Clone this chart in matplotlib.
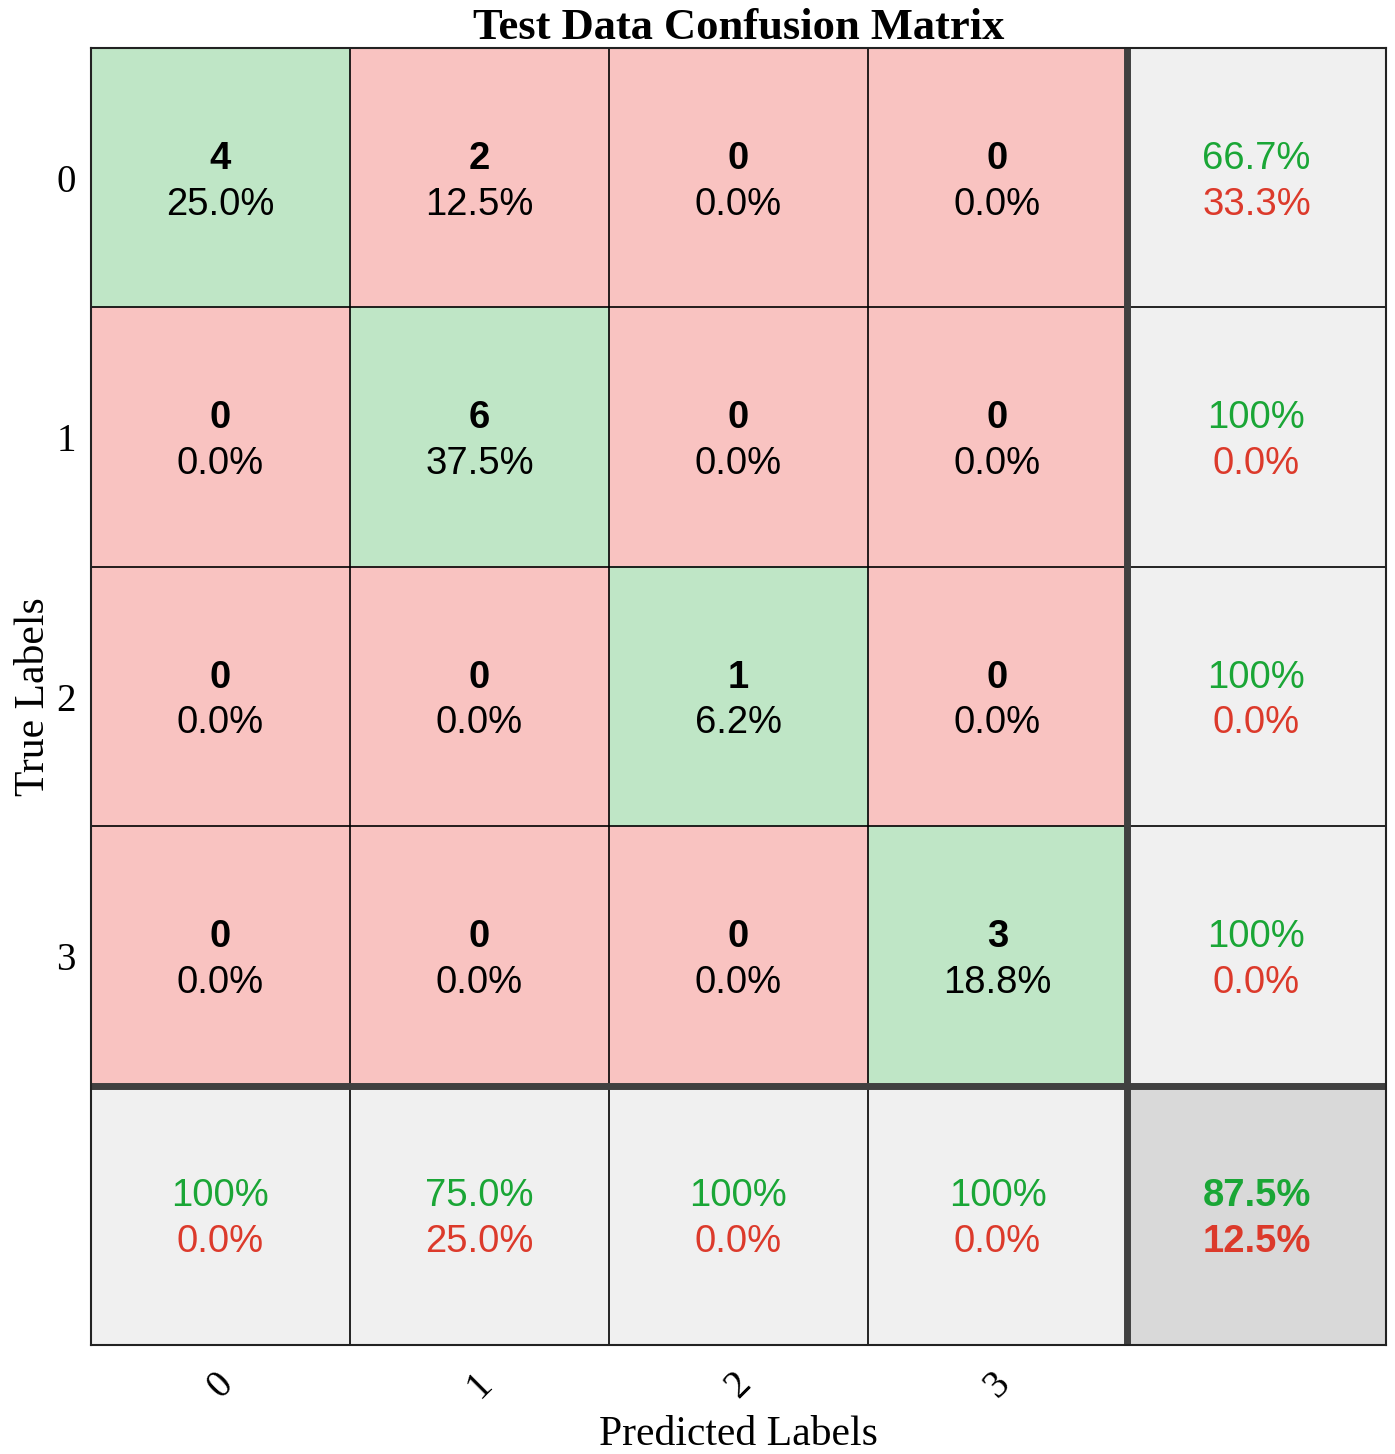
import numpy as np
import matplotlib
matplotlib.use('Agg')
import matplotlib.pyplot as plt
from matplotlib.colors import ListedColormap

# data
class_labels = ['0', '1', '2', '3']
counts = np.array([[4, 2, 0, 0],
                   [0, 6, 0, 0],
                   [0, 0, 1, 0],
                   [0, 0, 0, 3]])

serif = ['Liberation Serif', 'DejaVu Serif']
sans = ['Liberation Sans', 'DejaVu Sans']

green_bg = '#BFE6C6'
red_bg = '#F9C3C1'
gray_bg = '#F0F0F0'
dark_bg = '#D9D9D9'
green_txt = '#1AA636'
red_txt = '#DC3A2B'

n = len(class_labels)
total = counts.sum()
row_sum = counts.sum(axis=1)
col_sum = counts.sum(axis=0)
diag = np.diag(counts)

def fmt(p):
    if abs(p - 100) < 1e-9:
        return '100%'
    return '%.1f%%' % p

# 单元格颜色编码: 0 红, 1 绿, 2 灰, 3 深灰
codes = np.zeros((n + 1, n + 1))
for i in range(n):
    codes[i, i] = 1
codes[n, :] = 2
codes[:, n] = 2
codes[n, n] = 3
cmap = ListedColormap([red_bg, green_bg, gray_bg, dark_bg])

fig = plt.figure(figsize=(13.95, 14.54), dpi=100)
ax = fig.add_axes([91/1395, 1 - 1345/1454, 1295/1395, 1297/1454])
ax.imshow(codes, cmap=cmap, vmin=-0.5, vmax=3.5, aspect='auto', interpolation='nearest')

# 网格线
for k in range(1, n + 1):
    lw = 5 if k == n else 1.2
    col = '#404040' if k == n else 'black'
    ax.axvline(k - 0.5, color=col, lw=lw)
    ax.axhline(k - 0.5, color=col, lw=lw)
for s in ax.spines.values():
    s.set_linewidth(1.5)
    s.set_color('#222222')

fs = 27.5
d1, d2 = -0.073, 0.104
for i in range(n):
    for j in range(n):
        ax.text(j, i + d1, str(counts[i, j]), ha='center', va='center',
                fontsize=fs, fontweight='bold', family=sans, color='black')
        ax.text(j, i + d2, fmt(100 * counts[i, j] / total), ha='center', va='center',
                fontsize=fs, family=sans, color='black')
    # 行汇总（右列）
    r = 100 * diag[i] / row_sum[i]
    ax.text(n, i + d1, fmt(r), ha='center', va='center', fontsize=fs, family=sans, color=green_txt)
    ax.text(n, i + d2, fmt(100 - r), ha='center', va='center', fontsize=fs, family=sans, color=red_txt)
    # 列汇总（底行）
    c = 100 * diag[i] / col_sum[i]
    ax.text(i, n + d1, fmt(c), ha='center', va='center', fontsize=fs, family=sans, color=green_txt)
    ax.text(i, n + d2, fmt(100 - c), ha='center', va='center', fontsize=fs, family=sans, color=red_txt)

acc = 100 * diag.sum() / total
ax.text(n, n + d1, fmt(acc), ha='center', va='center', fontsize=fs, family=sans,
        fontweight='bold', color=green_txt)
ax.text(n, n + d2, fmt(100 - acc), ha='center', va='center', fontsize=fs, family=sans,
        fontweight='bold', color=red_txt)

ax.set_xticks(range(n))
ax.set_xticklabels(class_labels, rotation=45, family=serif, fontsize=28)
ax.set_yticks(range(n))
ax.set_yticklabels(class_labels, family=serif, fontsize=28)
ax.tick_params(length=0)
ax.tick_params(axis='y', pad=11)
ax.tick_params(axis='x', pad=15)

ax.set_title('Test Data Confusion Matrix', family=serif, fontsize=32, fontweight='bold', pad=3)
ax.set_xlabel('Predicted Labels', family=serif, fontsize=30, labelpad=7)
ax.set_ylabel('True Labels', family=serif, fontsize=30, labelpad=2)

fig.savefig('out.png', dpi=100)
